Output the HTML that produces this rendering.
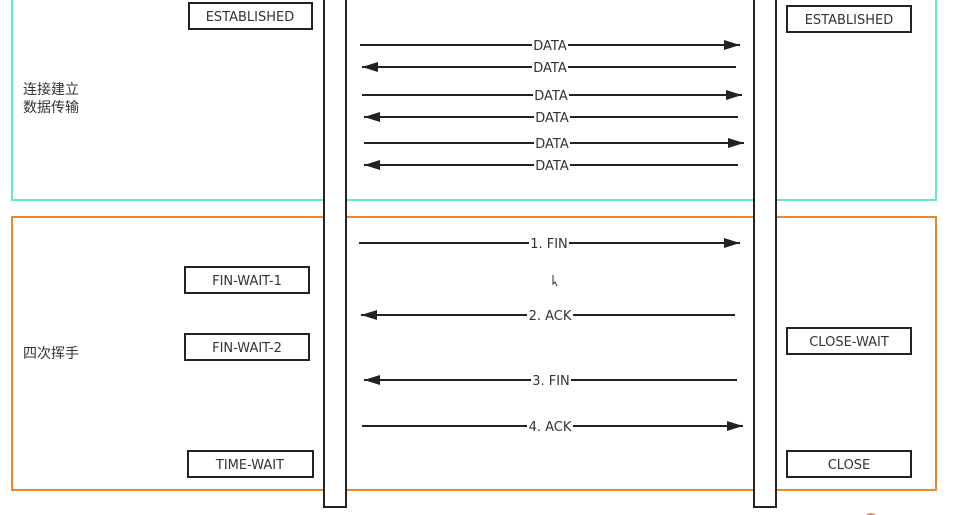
<!DOCTYPE html>
<html><head><meta charset="utf-8"><style>
html,body{margin:0;padding:0;background:#fff;width:953px;height:515px;overflow:hidden}
svg text{font-family:"DejaVu Sans","Liberation Sans","Noto Sans CJK SC",sans-serif;font-size:13px;fill:#333}
.cn{font-family:"Liberation Sans","Noto Sans CJK SC",sans-serif;font-size:14px}
</style></head><body>
<svg width="953" height="515" viewBox="0 0 953 515" xmlns="http://www.w3.org/2000/svg">
<defs>
<marker id="ah" markerWidth="16" markerHeight="10" refX="16" refY="5" orient="auto" markerUnits="userSpaceOnUse">
<path d="M0,0 L16,5 L0,10 Z" fill="#222"/></marker>
</defs>
<rect x="12" y="-5" width="924" height="205" fill="none" stroke="#5ef0b0" stroke-width="2"/>
<rect x="12" y="217" width="924" height="273" fill="none" stroke="#f0862a" stroke-width="2"/>
<text class="cn" x="23" y="94">连接建立</text>
<text class="cn" x="23" y="112">数据传输</text>
<text class="cn" x="23" y="358">四次挥手</text>
<rect x="324" y="-5" width="22" height="512" fill="#fff" stroke="#222" stroke-width="2"/>
<rect x="754" y="-5" width="22" height="512" fill="#fff" stroke="#222" stroke-width="2"/>
<g stroke="#222" stroke-width="2" fill="#fff">
<rect x="189" y="3" width="123" height="26"/>
<rect x="787" y="6" width="124" height="26"/>
<rect x="185" y="267" width="124" height="26"/>
<rect x="185" y="334" width="124" height="26"/>
<rect x="188" y="451" width="125" height="26"/>
<rect x="787" y="328" width="124" height="26"/>
<rect x="787" y="451" width="124" height="26"/>
</g>
<g text-anchor="middle">
<text x="250" y="21">ESTABLISHED</text>
<text x="849" y="24">ESTABLISHED</text>
<text x="247" y="285">FIN-WAIT-1</text>
<text x="247" y="352">FIN-WAIT-2</text>
<text x="250" y="469">TIME-WAIT</text>
<text x="849" y="346">CLOSE-WAIT</text>
<text x="849" y="469">CLOSE</text>
</g>
<g stroke="#222" stroke-width="2" fill="none">
<line x1="360" y1="45" x2="740" y2="45" marker-end="url(#ah)"/>
<line x1="736" y1="67" x2="362" y2="67" marker-end="url(#ah)"/>
<line x1="362" y1="95" x2="742" y2="95" marker-end="url(#ah)"/>
<line x1="738" y1="117" x2="364" y2="117" marker-end="url(#ah)"/>
<line x1="364" y1="143" x2="744" y2="143" marker-end="url(#ah)"/>
<line x1="738" y1="165" x2="364" y2="165" marker-end="url(#ah)"/>
<line x1="359" y1="243" x2="740" y2="243" marker-end="url(#ah)"/>
<line x1="735" y1="315" x2="361" y2="315" marker-end="url(#ah)"/>
<line x1="737" y1="380" x2="364" y2="380" marker-end="url(#ah)"/>
<line x1="362" y1="426" x2="743" y2="426" marker-end="url(#ah)"/>
</g>
<g fill="#fff">
<rect x="532" y="37" width="36" height="16"/><rect x="532" y="59" width="36" height="16"/>
<rect x="533" y="87" width="36" height="16"/><rect x="534" y="109" width="36" height="16"/>
<rect x="534" y="135" width="36" height="16"/><rect x="534" y="157" width="36" height="16"/>
<rect x="529" y="235" width="40" height="16"/><rect x="527" y="307" width="46" height="16"/>
<rect x="531" y="372" width="40" height="16"/><rect x="527" y="418" width="46" height="16"/>
</g>
<g text-anchor="middle">
<text x="550" y="50">DATA</text><text x="550" y="72">DATA</text>
<text x="551" y="100">DATA</text><text x="552" y="122">DATA</text>
<text x="552" y="148">DATA</text><text x="552" y="170">DATA</text>
<text x="549" y="248">1. FIN</text><text x="550" y="320">2. ACK</text>
<text x="551" y="385">3. FIN</text><text x="550" y="431">4. ACK</text>
</g>
<path d="M553,275 L553,284 L555,282 L557,286" stroke="#333" fill="none" stroke-width="1"/>
<circle cx="871" cy="520" r="6" fill="none" stroke="#f08080" stroke-width="2"/>
</svg>
</body></html>
